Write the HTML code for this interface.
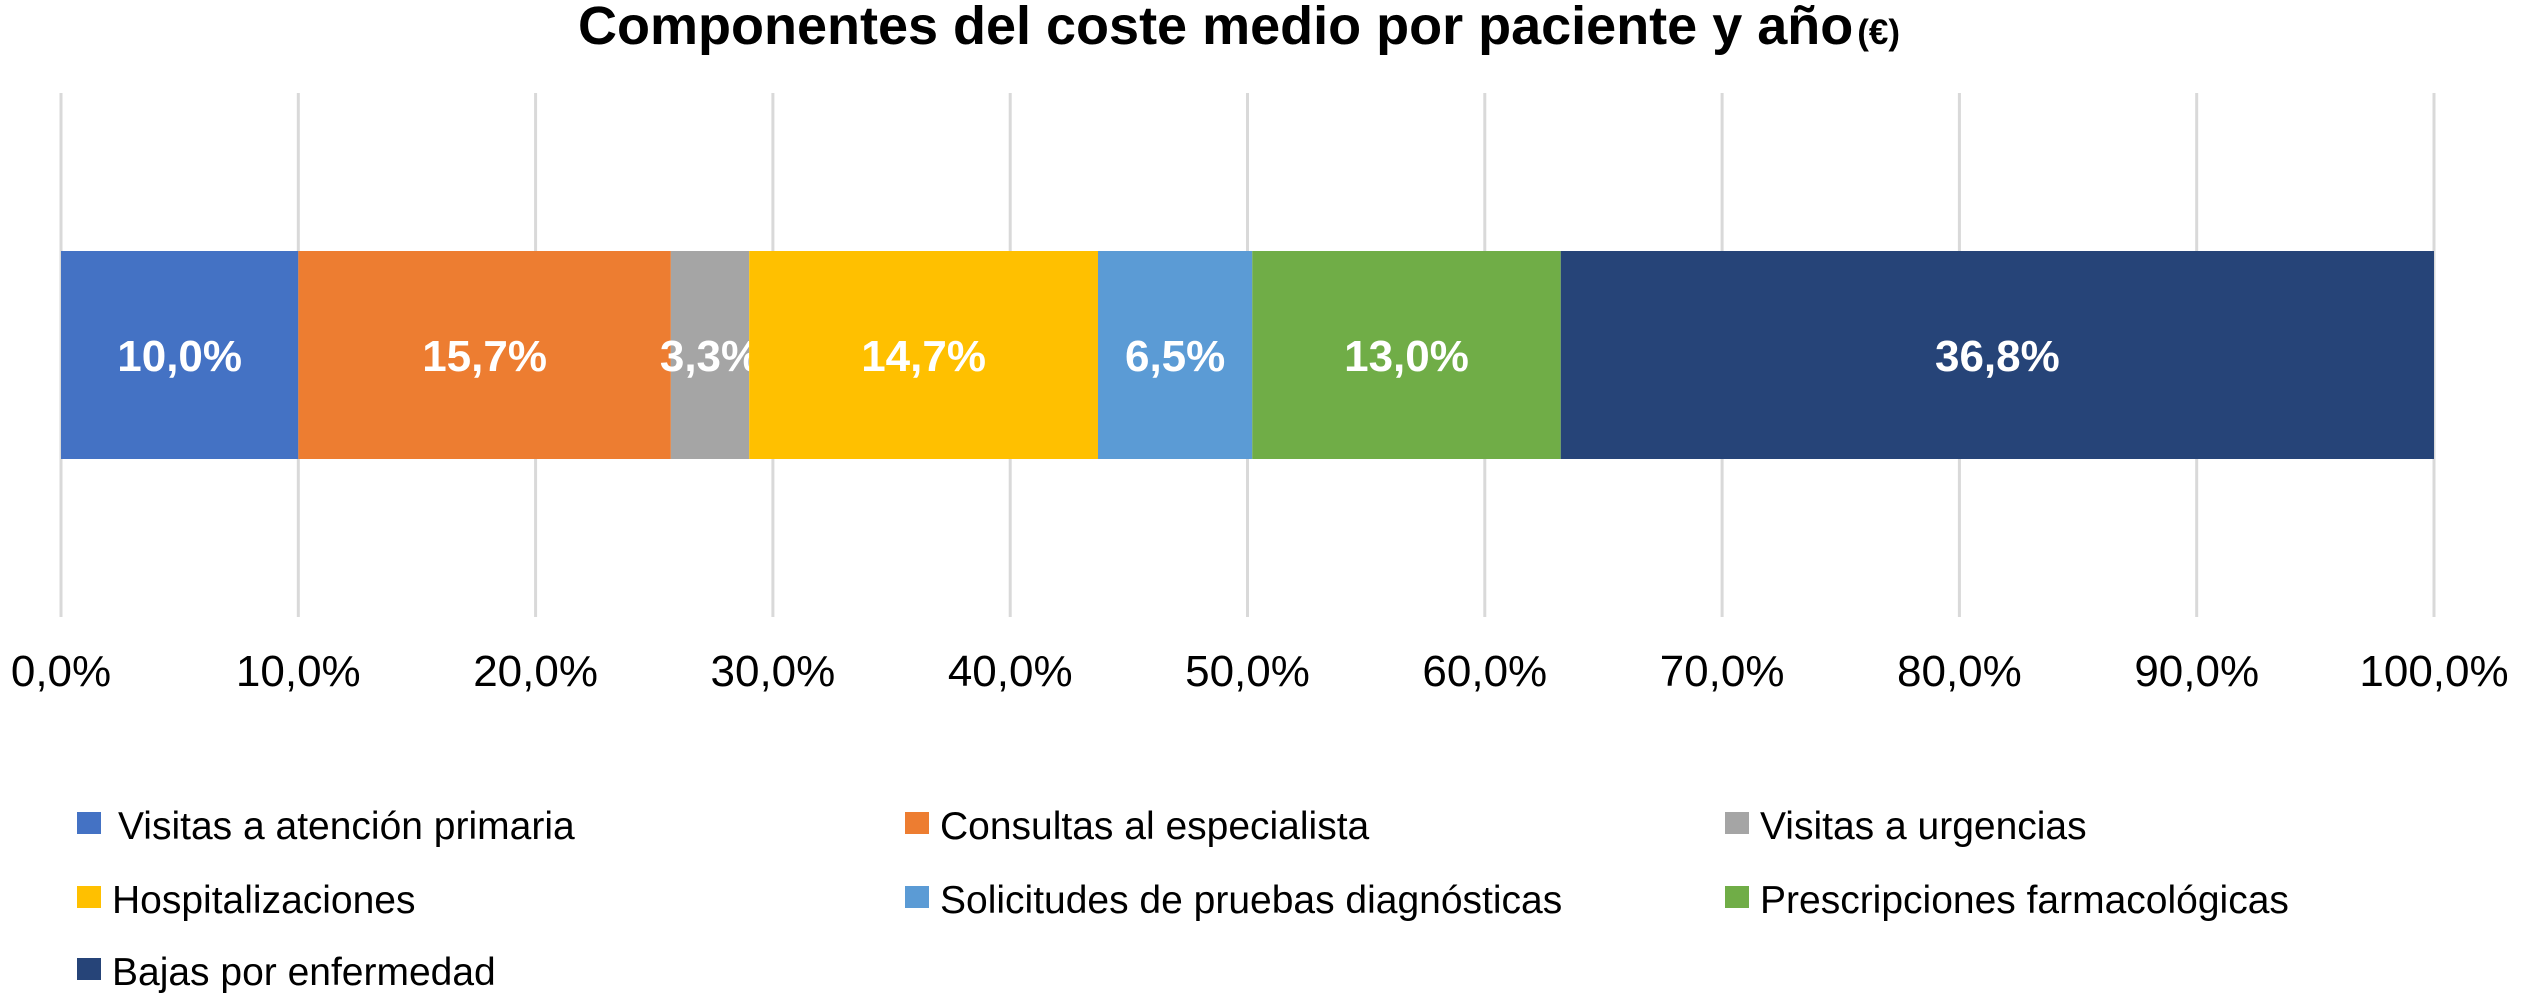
<!DOCTYPE html>
<html><head><meta charset="utf-8"><style>
html,body{margin:0;padding:0;background:#fff;}
svg{display:block;font-family:"Liberation Sans",Arial,sans-serif;}
</style></head><body>
<svg id="chart" width="2522" height="997" viewBox="0 0 2522 997">
<text x="1239" y="44" text-anchor="middle" font-size="54" font-weight="bold" fill="#000">Componentes del coste medio por paciente y año<tspan font-size="35" dx="4">(€)</tspan></text>
<g id="grid"></g>
<g id="bars"></g>
<g id="ticks"></g>
<g id="legend"></g>
</svg>
<script>
const categories = ["Visitas a atención primaria","Consultas al especialista","Visitas a urgencias","Hospitalizaciones","Solicitudes de pruebas diagnósticas","Prescripciones farmacológicas","Bajas por enfermedad"];
const values = [10.0, 15.7, 3.3, 14.7, 6.5, 13.0, 36.8];
const valueLabels = ["10,0%","15,7%","3,3%","14,7%","6,5%","13,0%","36,8%"];
const tickValues = [0,10,20,30,40,50,60,70,80,90,100];
const tickLabels = ["0,0%","10,0%","20,0%","30,0%","40,0%","50,0%","60,0%","70,0%","80,0%","90,0%","100,0%"];
const colors = ["#4472C4","#ED7D31","#A5A5A5","#FFC000","#5B9BD5","#70AD47","#264478"];

const NS="http://www.w3.org/2000/svg";
const x0=61, x1=2434, barTop=251, barBot=459;
function xs(v){return x0+(x1-x0)*v/100;}
function mk(tag,attrs,parent,text){const e=document.createElementNS(NS,tag);for(const k in attrs)e.setAttribute(k,attrs[k]);if(text!==undefined)e.textContent=text;parent.appendChild(e);return e;}

const grid=document.getElementById('grid');
const ticks=document.getElementById('ticks');
tickValues.forEach((t,i)=>{
  const l=mk('line',{x1:xs(t),x2:xs(t),y1:93,y2:617,stroke:'#d9d9d9','stroke-width':3},grid);
  
  
  const tx=mk('text',{x:xs(t),y:686,'text-anchor':'middle','font-size':44,fill:'#000'},ticks,tickLabels[i]);
  
  
});

const bars=document.getElementById('bars');
let cum=0;
values.forEach((v,i)=>{
  const r=mk('rect',{x:xs(cum),y:barTop,width:xs(cum+v)-xs(cum),height:barBot-barTop,fill:colors[i]},bars);
  
  
  const t=mk('text',{x:(xs(cum)+xs(cum+v))/2,y:(barTop+barBot)/2+16,'text-anchor':'middle','font-size':44,'font-weight':'bold',fill:'#fff'},bars,valueLabels[i]);
  
  
  cum+=v;
});

const legend=document.getElementById('legend');
const colX=[77,905,1725], rowY=[839,913,985];
categories.forEach((c,i)=>{
  const cx=colX[i%3], by=rowY[Math.floor(i/3)];
  const g=mk('g',{},legend);
  
  
  mk('rect',{x:cx,y:by-27,width:24,height:22,fill:colors[i]},g);
  mk('text',{x:cx+(i===0?41:35),y:by,'font-size':39,fill:'#000'},g,c);
});
</script>
</body></html>
